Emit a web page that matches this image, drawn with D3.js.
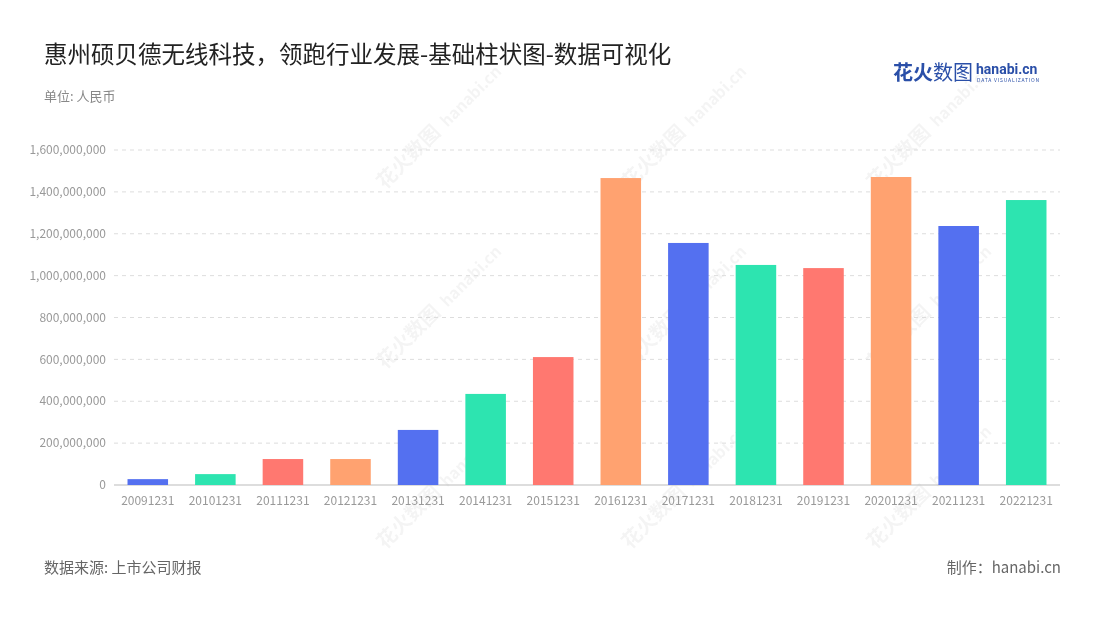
<!DOCTYPE html>
<html><head><meta charset="utf-8">
<script src="https://cdn.jsdelivr.net/npm/d3@7"></script>
<style>body{margin:0;background:#fff;font-family:"Noto Sans CJK SC","Noto Sans",sans-serif}</style>
</head><body><svg width="1100" height="620"></svg>
<script>
const years = ["20091231","20101231","20111231","20121231","20131231","20141231","20151231","20161231","20171231","20181231","20191231","20201231","20211231","20221231"];
const values = [28e6,52e6,124e6,124e6,263e6,435e6,611e6,1466e6,1156e6,1051e6,1036e6,1471e6,1237e6,1361e6];
const colors = ["#5470f0","#2de4b0","#ff7870","#ffa270"];
const yTicks = d3.range(0, 1.6e9 + 1, 2e8);

const svg = d3.select("svg");
const x = d3.scaleBand().domain(years).range([114, 1060]).paddingInner(0.4).paddingOuter(0.2);
const y = d3.scaleLinear().domain([0, 1.6e9]).range([485, 150]);

// 水印
const wm = svg.append("g").attr("fill", "#000").attr("opacity", 0.045).attr("font-weight", "bold");
[[385,190],[630,190],[875,190],[385,370],[630,370],[875,370],[385,550],[630,550],[875,550]].forEach(([a,b]) => {
  const g = wm.append("g").attr("transform", `translate(${a},${b}) rotate(-45)`);
  g.append("text").attr("font-size", 20).text("花火数图");
  g.append("text").attr("x", 88).attr("font-size", 16).text("hanabi.cn");
});

svg.append("g").selectAll("line").data(yTicks.slice(1)).join("line")
  .attr("x1", 114).attr("x2", 1060).attr("y1", d => y(d)).attr("y2", d => y(d))
  .attr("stroke", "#ddd").attr("stroke-dasharray", "4,4");

svg.append("g").selectAll("text").data(yTicks).join("text")
  .attr("x", 106).attr("y", d => y(d)).attr("dy", "0.35em").attr("text-anchor", "end")
  .attr("font-size", 12).attr("fill", "#999").text(d => d3.format(",")(d));

svg.append("line").attr("x1", 114).attr("x2", 1060).attr("y1", 485).attr("y2", 485).attr("stroke", "#bbb");

svg.append("g").selectAll("rect").data(values).join("rect")
  .attr("x", (d, i) => x(years[i])).attr("width", x.bandwidth())
  .attr("y", d => y(d)).attr("height", d => 485 - y(d))
  .attr("fill", (d, i) => colors[i % 4]);

svg.append("g").selectAll("text").data(years).join("text")
  .attr("x", d => x(d) + x.bandwidth() / 2).attr("y", 505).attr("text-anchor", "middle")
  .attr("font-size", 12).attr("fill", "#999").text(d => d);

svg.append("text").attr("x", 44).attr("y", 63).attr("font-size", 23.5).attr("fill", "#222")
  .text("惠州硕贝德无线科技，领跑行业发展-基础柱状图-数据可视化");
svg.append("text").attr("x", 44).attr("y", 101).attr("font-size", 13).attr("fill", "#888").text("单位: 人民币");
svg.append("text").attr("x", 44).attr("y", 573).attr("font-size", 15).attr("fill", "#666").text("数据来源: 上市公司财报");
svg.append("text").attr("x", 1061).attr("y", 573).attr("text-anchor", "end").attr("font-size", 15).attr("fill", "#666").text("制作：hanabi.cn");

// logo
svg.append("text").attr("x", 893).attr("y", 80).attr("font-size", 20).attr("font-weight", "bold").attr("fill", "#2a4fa8").text("花火");
svg.append("text").attr("x", 933).attr("y", 80).attr("font-size", 20).attr("fill", "#2a4fa8").text("数图");
svg.append("text").attr("x", 976).attr("y", 74).attr("font-size", 14).attr("font-weight", "bold").attr("fill", "#2a4fa8").attr("font-family", "Roboto").text("hanabi.cn");
svg.append("text").attr("x", 977).attr("y", 82).attr("font-size", 5).attr("fill", "#2a4fa8").attr("letter-spacing", 0.8).text("DATA VISUALIZATION");
</script></body></html>
